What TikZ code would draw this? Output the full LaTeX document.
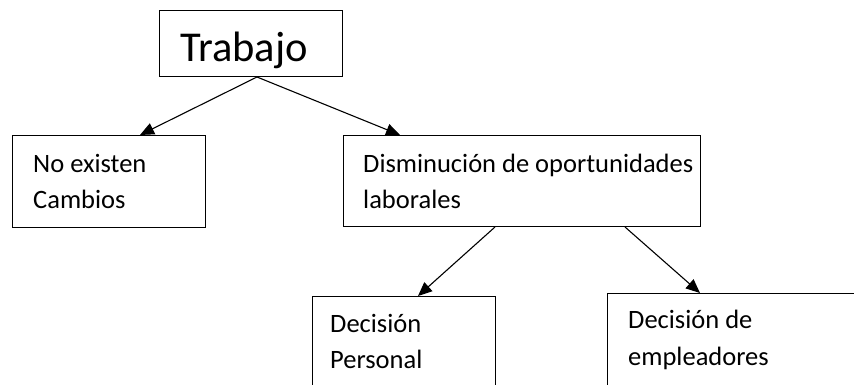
\documentclass[tikz,border=0pt]{standalone}
\usepackage{fontspec}
\setmainfont{Carlito}
\usetikzlibrary{arrows.meta}
\begin{document}
\begin{tikzpicture}[x=1pt,y=-1pt,
  box/.style={draw=black,line width=1pt,rectangle,inner sep=0pt,anchor=north west},
  openbox/.style={rectangle,inner sep=0pt,anchor=north west},
  lbl/.style={anchor=base west,inner sep=0pt,font=\fontsize{26.5}{30}\selectfont},
  big/.style={anchor=base west,inner sep=0pt,font=\fontsize{42.5}{48}\selectfont},
  edge/.style={draw=black,line width=1pt},
  conn/.style={line width=1.1pt,-{Triangle[length=14pt,width=12pt]}}]
\useasboundingbox (0,0) rectangle (854,385);
\fill[white] (0,0) rectangle (854,385);
% boxes
\node[box,minimum width=183pt,minimum height=66pt] (trab) at (159,10) {};
\node[box,minimum width=193pt,minimum height=92pt] (noex) at (12,135) {};
\node[box,minimum width=357pt,minimum height=91pt] (dism) at (343,135) {};
\node[openbox,minimum width=183pt,minimum height=92pt] (dper) at (312,296) {};
\node[openbox,minimum width=247pt,minimum height=92pt] (demp) at (607,293) {};
\path[edge] (dper.south west) -- (dper.north west) -- (dper.north east) -- (dper.south east);
\path[edge] (demp.south west) -- (demp.north west) -- (demp.north east);
% texts
\node[big] (t1) at (180,62) {Trabajo};
\node[lbl] (t2) at (33,172) {No existen};
\node[lbl] (t3) at (33,208) {Cambios};
\node[lbl] (t4) at (363,172) {Disminución de oportunidades};
\node[lbl] (t5) at (363,208) {laborales};
\node[lbl] (t6) at (330,332) {Decisión};
\node[lbl] (t7) at (330,368) {Personal};
\node[lbl] (t8) at (628,328) {Decisión de};
\node[lbl] (t9) at (628,365) {empleadores};
% connectors
\draw[conn] ([xshift=98pt]trab.south west) -- ([xshift=128pt]noex.north west);
\draw[conn] ([xshift=98pt]trab.south west) -- ([xshift=57pt]dism.north west);
\draw[conn] ([xshift=152pt]dism.south west) -- ([xshift=106pt]dper.north west);
\draw[conn] ([xshift=282pt]dism.south west) -- ([xshift=93pt]demp.north west);
\end{tikzpicture}
\end{document}
